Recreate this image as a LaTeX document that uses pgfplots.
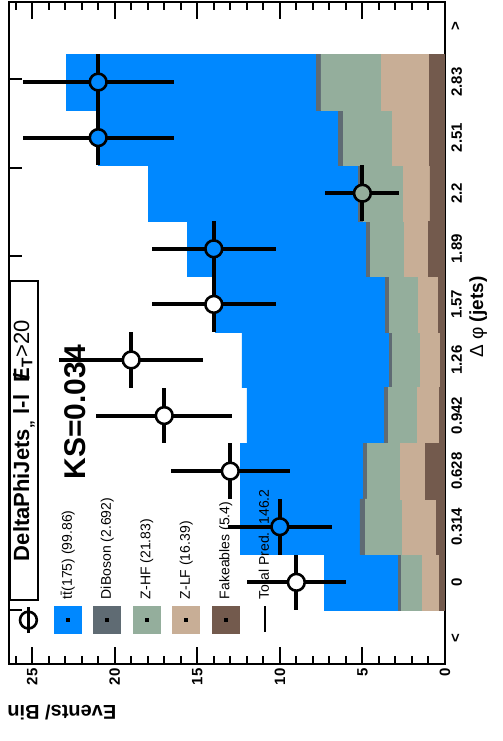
\documentclass[border=0pt]{standalone}
\usepackage{pgfplots}
\pgfplotsset{compat=1.18}
\usepackage{pgfplotstable}
\usepackage{fontspec}
\setmainfont{Liberation Sans}
\definecolor{ttb}{RGB}{0,136,255}
\definecolor{dib}{RGB}{95,107,115}
\definecolor{zhf}{RGB}{148,174,156}
\definecolor{zlf}{RGB}{200,174,150}
\definecolor{fak}{RGB}{115,90,77}
\pgfplotsset{
  rootbox/.style={legend image code/.code={
     \path[draw=none,fill=none] (0pt,-7pt) rectangle (14pt,7pt);
     \fill[#1, draw=none] (0pt,-7pt) rectangle (14pt,7pt);
     \fill[black, draw=none] (6pt,-1pt) rectangle (8pt,1pt);}},
  hbar/.style={ybar, bar width=1, bar shift=0pt, fill=#1, draw=#1, line width=0.3pt, forget plot},
}
% cumulative stack heights per bin (bin index i spans [i,i+1])
\pgfplotstableread{
x fak zlf zhf dib tot
0.5 0.35 1.37 2.66 2.83 7.32
1.5 0.50 2.56 4.84 5.15 12.41
2.5 1.21 2.72 4.68 4.95 12.37
3.5 0.35 1.68 3.43 3.67 12.00
4.5 0.30 1.51 3.17 3.37 12.30
5.5 0.41 1.62 3.39 3.59 13.88
6.5 1.01 2.48 4.54 4.74 15.60
7.5 0.91 2.52 4.95 5.25 17.98
8.5 0.95 3.17 6.16 6.46 21.02
9.5 0.95 3.83 7.51 7.81 22.94
}\stack
\pgfplotstableread{
x y ex ey c
0.5 9 0.5 3.00 w
1.5 10 0.5 3.16 b
2.5 13 0.5 3.61 w
3.5 17 0.5 4.12 w
4.5 19 0.5 4.36 w
5.5 14 0.5 3.74 w
6.5 14 0.5 3.74 b
7.5 5 0.5 2.24 g
8.5 21 0.5 4.58 b
9.5 21 0.5 4.58 b
}\datatab
\begin{document}
\begin{tikzpicture}[rotate=90, transform shape]
\useasboundingbox (0,0) rectangle (370.5pt,251.5pt);
\begin{axis}[
  at={(38.5pt,29pt)}, anchor=south west,
  width=331pt, height=218pt, scale only axis,
  xmin=-0.97, xmax=10.94, ymin=0, ymax=26.4,
  axis line style={line width=1.4pt},
  tick style={line width=1pt, black},
  xtick={0,1.5915,3.1831,4.7746,6.3662,7.9577,9.5493},
  xticklabels={},
  xtick style={/pgfplots/major tick length=6.5pt},
  extra x ticks={-0.5,0.5,1.5,2.5,3.5,4.5,5.5,6.5,7.5,8.5,9.5,10.5},
  extra x tick labels={<,0,0.314,0.628,0.942,1.26,1.57,1.89,2.2,2.51,2.83,>},
  extra x tick style={/pgfplots/major tick length=0pt, tick style={draw=none}},
  ytick={0,5,10,15,20,25},
  yticklabels={0,5,10,15,20,25},
  minor ytick={0,1,...,26},
  ytick style={/pgfplots/major tick length=8.5pt, /pgfplots/minor tick length=4pt},
  tick label style={font=\fontsize{7.5}{9}\selectfont\bfseries},
  xticklabel style={inner sep=0pt, yshift=-3pt},
  yticklabel style={inner sep=0pt, xshift=-2pt},
  xlabel={{\mdseries Δ φ} (jets)},
  xlabel style={font=\fontsize{9.5}{11}\selectfont\bfseries, at={(axis description cs:0.524,0)}, anchor=north, inner sep=0pt, yshift=-12pt},
  ylabel={Events/ Bin},
  ylabel style={font=\fontsize{10}{12}\selectfont\bfseries, at={(axis description cs:-0.062,1.0046)}, anchor=south east, inner sep=0pt},
  legend style={font=\fontsize{7}{8}\selectfont, at={(axis description cs:0.0438,0.9885)}, anchor=north west, draw=none, fill=none, inner sep=0pt, row sep=5.75pt, column sep=3pt, nodes={inner sep=0pt}},
  legend cell align=left,
]
\addplot[hbar=ttb] table[x=x,y=tot]{\stack};
\addplot[hbar=dib] table[x=x,y=dib]{\stack};
\addplot[hbar=zhf] table[x=x,y=zhf]{\stack};
\addplot[hbar=zlf] table[x=x,y=zlf]{\stack};
\addplot[hbar=fak] table[x=x,y=fak]{\stack};
\addplot[forget plot, scatter, only marks, mark=*, mark size=4.2pt,
  scatter src=explicit symbolic,
  scatter/classes={
    w={mark=*, draw=black, fill=white, line width=1.3pt},
    b={mark=*, draw=black, fill=ttb, line width=1.3pt},
    g={mark=*, draw=black, fill=zhf, line width=1.3pt}},
  error bars/.cd, x dir=both, x explicit, y dir=both, y explicit,
  error mark=none, error bar style={line width=2pt, black}]
  table[x=x, y=y, x error=ex, y error=ey, meta=c]{\datatab};
\addlegendimage{legend image code/.code={
  \path[draw=none,fill=none] (0pt,-7pt) rectangle (14pt,7pt);
  \draw[black, line width=1.5pt] (0.5pt,0pt) -- (13.5pt,0pt);
  \draw[black, fill=none, line width=1.3pt] (7pt,0pt) circle (4.2pt);}}
\addlegendentry{\phantom{D}}
\addlegendimage{rootbox=ttb}\addlegendentry{t\={t}(175) (99.86)}
\addlegendimage{rootbox=dib}\addlegendentry{DiBoson (2.692)}
\addlegendimage{rootbox=zhf}\addlegendentry{Z-HF (21.83)}
\addlegendimage{rootbox=zlf}\addlegendentry{Z-LF (16.39)}
\addlegendimage{rootbox=fak}\addlegendentry{Fakeables (5.4)}
\addlegendimage{legend image code/.code={
  \path[draw=none,fill=none] (0pt,-7pt) rectangle (14pt,7pt);
  \draw[black, line width=1pt] (1pt,0pt) -- (14pt,0pt);}}
\addlegendentry{Total Pred.\ \ 146.2}
\node[draw=black, line width=0.6pt, fill=white, minimum width=159.5pt, minimum height=14pt, inner sep=0pt, font=\fontsize{11}{13}\selectfont\bfseries] at (axis description cs:0.3376,0.9656) {DeltaPhiJets\textsubscript{,,} l-l \ \rlap{\kern0.12em/}E\textsubscript{T}{\mdseries>20}};
\node[anchor=base west, inner sep=0pt, font=\fontsize{15}{17}\selectfont\bfseries] at (axis description cs:0.278,0.8234) {KS=0.034};
\end{axis}
\end{tikzpicture}
\end{document}
